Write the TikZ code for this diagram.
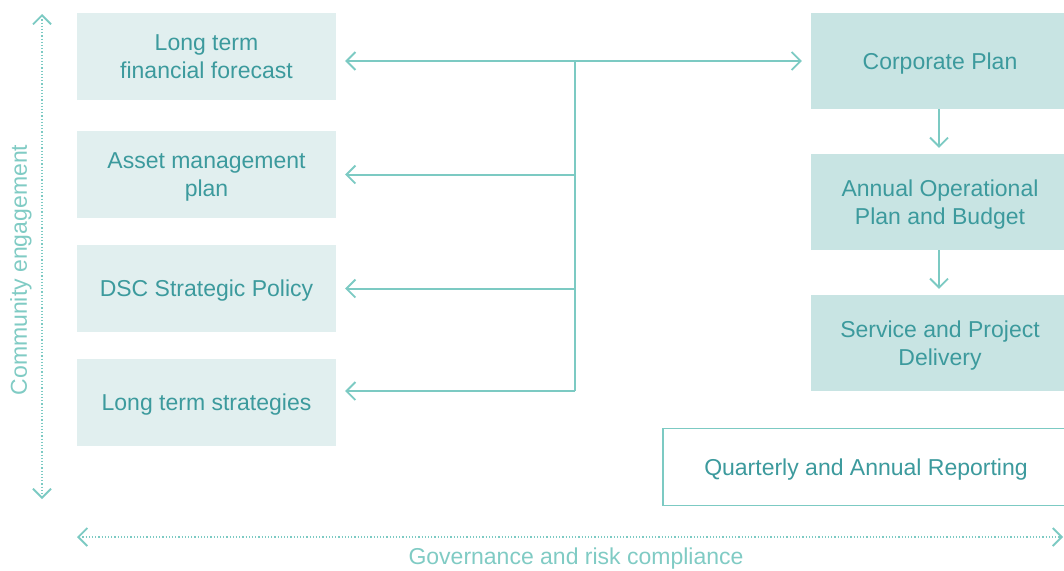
\documentclass[tikz,border=0pt]{standalone}
\usepackage{fontspec}
\setmainfont{Liberation Sans}
\usetikzlibrary{arrows.meta}
\definecolor{paleFill}{HTML}{E1EFEF}
\definecolor{tealFill}{HTML}{C8E4E3}
\definecolor{tealText}{HTML}{3C9A9D}
\definecolor{tealLine}{HTML}{7CCAC3}
\definecolor{tealLabel}{HTML}{80CBC4}
\tikzset{
  barb/.tip={Straight Barb[length=9pt, width=18pt, line width=1.8pt]},
  boxtext/.style={text=tealText, font=\fontsize{23}{28}\selectfont, align=center, inner sep=0pt, text depth=-2pt},
  leftbox/.style={boxtext, fill=paleFill, minimum width=259pt, minimum height=87pt},
  rightbox/.style={boxtext, fill=tealFill, minimum width=258pt, minimum height=96pt},
  reportbox/.style={boxtext, draw=tealLine, line width=1.6pt, fill=white, minimum width=406pt, minimum height=77pt},
  link/.style={draw=tealLine, line width=2pt},
  dotline/.style={draw=tealLine, line width=1.6pt, dash pattern=on 1.2pt off 2pt},
  sidelabel/.style={text=tealLabel, font=\fontsize{23}{28}\selectfont, inner sep=0pt}
}
\begin{document}
\begin{tikzpicture}[x=1pt, y=-1pt]
  \useasboundingbox (0,0) rectangle (1064,570);

  % planning documents on the left
  \node[leftbox] (lt)  at (206.5,56.5)  {Long term\\financial forecast};
  \node[leftbox] (am)  at (206.5,174.5) {Asset management\\plan};
  \node[leftbox] (dsc) at (206.5,288.5) {DSC Strategic Policy};
  \node[leftbox] (lts) at (206.5,402.5) {Long term strategies};

  % planning cycle on the right (boxes run past the page edge)
  \begin{scope}
    \clip (0,0) rectangle (1064,570);
    \node[rightbox] (cp)  at (940,61)  {Corporate Plan};
    \node[rightbox] (aop) at (940,202) {Annual Operational\\Plan and Budget};
    \node[rightbox] (spd) at (940,343) {Service and Project\\Delivery};
    \node[reportbox] (qar) at (866,467) {Quarterly and Annual Reporting};
  \end{scope}

  % trunk joining the documents
  \coordinate (j1) at (575,61);
  \coordinate (j4) at (575,391);
  \path[link] (j1) -- (j4);
  \path[link, barb-barb, shorten <=9pt, shorten >=9pt] (lt.east |- j1) -- (cp.west);
  \path[link, -barb, shorten >=9pt] (j1 |- am.east) -- (am.east);
  \path[link, -barb, shorten >=9pt] (j1 |- dsc.east) -- (dsc.east);
  \path[link, -barb, shorten >=9pt] (j4) -- (lts.east |- j4);

  % flow down the cycle
  \coordinate (dx) at (939,0);
  \path[link, -barb, shorten >=6pt] (dx |- cp.south) -- (dx |- aop.north);
  \path[link, -barb, shorten >=6pt] (dx |- aop.south) -- (dx |- spd.north);

  % framing axes
  \coordinate (ce1) at (42,14);
  \coordinate (ce2) at (42,499);
  \path[dotline, barb-barb] (ce1) -- (ce2);
  \node[sidelabel, rotate=90] (ce) at (21,270) {Community engagement};

  \coordinate (g1) at (77,537);
  \coordinate (g2) at (1063,537);
  \path[dotline, barb-barb] (g1) -- (g2);
  \node[sidelabel] (gov) at (576,559) {Governance and risk compliance};
\end{tikzpicture}
\end{document}
